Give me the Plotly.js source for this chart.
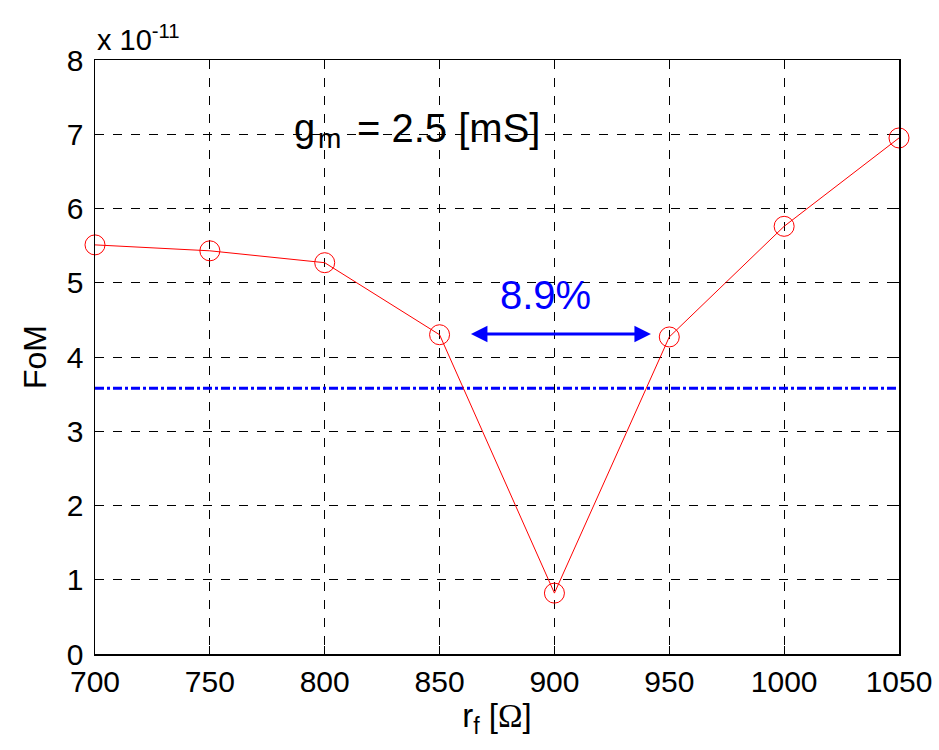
<!DOCTYPE html>
<html>
<head>
<meta charset="utf-8">
<script src="https://cdn.plot.ly/plotly-3.0.1.min.js"></script>
<style>html,body{margin:0;padding:0;background:#fff;}</style>
</head>
<body>
<div id="chart" style="width:939px;height:750px;"></div>
<script>
// Data (FoM in units of 1e-11)
const rf = [700, 750, 800, 850, 900, 950, 1000, 1050];
const fom = [5.51, 5.43, 5.27, 4.30, 0.82, 4.27, 5.76, 6.95];
const refX = [700, 1050];
const refY = [3.58, 3.58];
const arrowX = [863, 942];
const arrowY = [4.31, 4.31];
const xTicks = [700, 750, 800, 850, 900, 950, 1000, 1050];
const yTicks = [0, 1, 2, 3, 4, 5, 6, 7, 8];

const font = "'Liberation Sans', Arial, sans-serif";

const traces = [
  {
    x: refX, y: refY, mode: 'lines', type: 'scatter',
    line: {color: '#0000ff', width: 3, dash: 'dashdot'},
    hoverinfo: 'skip', showlegend: false
  },
  {
    x: rf, y: fom, mode: 'lines+markers', type: 'scatter',
    line: {color: '#ff0000', width: 1},
    marker: {symbol: 'circle-open', size: 20, color: '#ff0000', line: {width: 1, color: '#ff0000'}},
    cliponaxis: false,
    showlegend: false
  }
];

const layout = {
  width: 939, height: 750,
  margin: {l: 95, r: 40, t: 60, b: 96},
  paper_bgcolor: '#fff', plot_bgcolor: '#fff',
  font: {family: font, size: 30, color: '#000'},
  xaxis: {
    range: [700, 1050], tickvals: xTicks, ticktext: xTicks.map(String),
    ticks: 'inside', ticklen: 8, tickcolor: '#000', mirror: 'allticks',
    showline: true, linecolor: '#000', linewidth: 1.5,
    showgrid: true, gridcolor: '#000', griddash: 'dash', gridwidth: 1,
    zeroline: false,
    tickfont: {family: font, size: 30, color: '#000'},
    title: {text: 'r<sub>f</sub> [<span style="font-family:Liberation Serif">Ω</span>]', font: {family: font, size: 33, color: '#000'}, standoff: 6}
  },
  yaxis: {
    range: [0, 8], tickvals: yTicks, ticktext: yTicks.map(String),
    ticks: 'inside', ticklen: 8, tickcolor: '#000', mirror: 'allticks',
    showline: true, linecolor: '#000', linewidth: 1.5,
    showgrid: true, gridcolor: '#000', griddash: 'dash', gridwidth: 1,
    zeroline: false,
    ticklabelstandoff: 4,
    tickfont: {family: font, size: 30, color: '#000'},
    title: {text: 'FoM', font: {family: font, size: 32, color: '#000'}, standoff: 10}
  },
  annotations: [
    {
      xref: 'paper', yref: 'paper', x: 0, y: 1, xanchor: 'left', yanchor: 'bottom',
      text: 'x 10<sup>-11</sup>', showarrow: false, yshift: 2,
      font: {family: font, size: 29, color: '#000'}
    },
    {
      x: 786, y: 7.07, xref: 'x', yref: 'y', xanchor: 'left', showarrow: false,
      borderpad: 0, yshift: 1,
      text: 'g',
      font: {family: font, size: 38, color: '#000'}
    },
    {
      x: 796.5, y: 7.07, xref: 'x', yref: 'y', xanchor: 'left', showarrow: false,
      borderpad: 0, yshift: -9,
      text: 'm',
      font: {family: font, size: 28, color: '#000'}
    },
    {
      x: 813.5, y: 7.07, xref: 'x', yref: 'y', xanchor: 'left', showarrow: false,
      borderpad: 0, yshift: 1,
      text: '= 2.5 [mS]',
      font: {family: font, size: 40, color: '#000'}
    },
    {
      x: 896, y: 4.83, xref: 'x', yref: 'y', showarrow: false,
      text: '8.9%',
      font: {family: font, size: 40, color: '#0000ff'}
    },
    {
      x: arrowX[1], y: arrowY[1], ax: arrowX[0], ay: arrowY[0],
      xref: 'x', yref: 'y', axref: 'x', ayref: 'y',
      text: '', showarrow: true, arrowside: 'end+start',
      arrowhead: 2, startarrowhead: 2, arrowsize: 1.1, startarrowsize: 1.1,
      arrowwidth: 3, arrowcolor: '#0000ff'
    }
  ]
};

Plotly.newPlot('chart', traces, layout, {displayModeBar: false, staticPlot: true});
</script>
</body>
</html>
